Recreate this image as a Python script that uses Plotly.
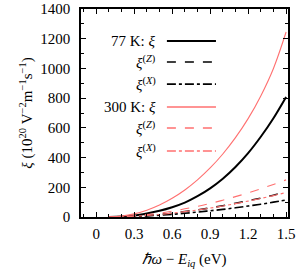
import plotly.graph_objects as go

energy = [0.1, 0.2, 0.3, 0.4, 0.5, 0.6, 0.7, 0.8, 0.9, 1.0, 1.1, 1.2, 1.3, 1.4, 1.5]

xi_77 = [0, 3, 10, 24, 42, 66, 97, 140, 193, 258, 337, 430, 540, 665, 808]
xiZ_77 = [0, 1.5, 5, 10.5, 17.6, 26, 37, 48, 61, 76, 92, 109, 127, 147, 168]
xiX_77 = [0, 1, 3.4, 7, 12, 18, 25, 33, 42, 51, 62, 74, 86, 100, 114]

xi_300 = [0, 6, 21, 46, 81, 126, 182, 250, 330, 424, 534, 662, 815, 1000, 1245]
xiZ_300 = [0, 2, 8, 16, 26, 39, 55, 72, 91, 113, 137, 162, 190, 219, 250]
xiX_300 = [0, 1, 5, 10, 17, 26, 36, 47, 60, 74, 90, 107, 125, 144, 165]

x_ticks = [0, 0.3, 0.6, 0.9, 1.2, 1.5]
y_ticks = [0, 200, 400, 600, 800, 1000, 1200, 1400]

BLACK = "black"
RED = "#ff7070"

series = [
    ("77 K: <i>ξ</i>", xi_77, BLACK, "solid", 2),
    ("<i>ξ</i><sup>(<i>Z</i>)</sup>", xiZ_77, BLACK, "dash", 1.6),
    ("<i>ξ</i><sup>(<i>X</i>)</sup>", xiX_77, BLACK, "dashdot", 1.6),
    ("300 K: <i>ξ</i>", xi_300, RED, "solid", 1.1),
    ("<i>ξ</i><sup>(<i>Z</i>)</sup>", xiZ_300, RED, "dash", 1.1),
    ("<i>ξ</i><sup>(<i>X</i>)</sup>", xiX_300, RED, "dashdot", 1.1),
]

FONT = "Liberation Serif"

fig = go.Figure()
for name, vals, col, dash, w in series:
    fig.add_trace(go.Scatter(x=energy, y=vals, mode="lines", name=name,
                             line=dict(color=col, dash=dash, width=w, shape="spline"),
                             showlegend=False))

# manual key (gnuplot style: text right, sample to the right)
row_y = [0.846, 0.745, 0.639, 0.529, 0.428, 0.317]
for (name, vals, col, dash, w), ry in zip(series, row_y):
    fig.add_annotation(xref="paper", yref="paper", x=0.37, y=ry, text=name,
                       showarrow=False, xanchor="right", yanchor="middle",
                       font=dict(family=FONT, size=15, color="black"))
    fig.add_shape(type="line", xref="paper", yref="paper", x0=0.415, x1=0.652,
                  y0=ry, y1=ry, line=dict(color=col, dash=dash, width=max(w, 1.6)))

axis_common = dict(
    showline=True, linecolor="black", linewidth=1.6, mirror="ticks",
    ticks="inside", ticklen=5, tickcolor="black", tickwidth=1,
    showgrid=False, zeroline=False, automargin=False,
    tickfont=dict(family=FONT, size=15, color="black"),
)

fig.update_xaxes(range=[-0.12, 1.515], tickvals=x_ticks,
                 ticktext=[f"{v:g}" for v in x_ticks],
                 minor=dict(ticks="inside", dtick=0.1, tick0=0, ticklen=3, tickcolor="black"),
                 ticklabelstandoff=2,
                 title=dict(text="<i>ℏω</i> − <i>E</i><sub><i>iq</i></sub> (eV)",
                            font=dict(family=FONT, size=15, color="black"), standoff=13),
                 **axis_common)
fig.update_yaxes(range=[0, 1400], tickvals=y_ticks,
                 minor=dict(ticks="inside", dtick=100, tick0=0, ticklen=3, tickcolor="black"),
                 ticklabelstandoff=6,
                 title=dict(text="<i>ξ</i> (10<sup>20</sup> V<sup>−2</sup>m<sup>−1</sup>s<sup>−1</sup>)",
                            font=dict(family=FONT, size=15, color="black"), standoff=4),
                 **axis_common)

fig.update_layout(width=303, height=273, margin=dict(l=81, r=15, t=9, b=56),
                  paper_bgcolor="white", plot_bgcolor="white",
                  font=dict(family=FONT, size=15, color="black"))

fig.write_html("out.html", config={"displayModeBar": False},
               post_script="document.body.style.margin='0px';document.body.style.overflow='hidden';")
